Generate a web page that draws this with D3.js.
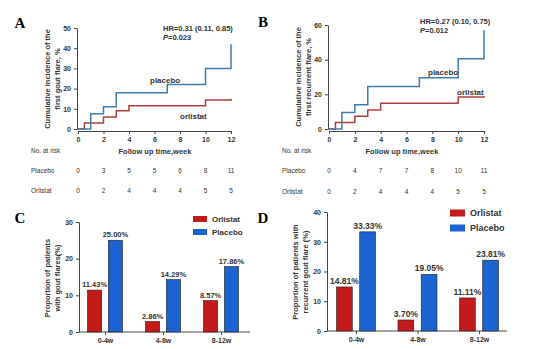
<!DOCTYPE html>
<html>
<head>
<meta charset="utf-8">
<script src="https://cdn.jsdelivr.net/npm/d3@7"></script>
<style>
  body { margin: 0; background: #fff; }
  svg { display: block; font-family: "Liberation Sans", Arial, sans-serif; }
  .axis path, .axis line { stroke: #444; stroke-width: 1; }
  .axis text { font-size: 7px; font-weight: bold; fill: #333; }
</style>
</head>
<body>
<svg id="chart" width="554" height="349"></svg>
<script>
// panel A: first gout flare
var weekTicks = [0, 2, 4, 6, 8, 10, 12];
var aPlaceboT = [0, 1, 2, 3, 7, 10, 12];
var aPlaceboV = [0, 7.5, 11, 18, 22, 30, 42];
var aOrlistatT = [0, 0.5, 2, 3, 4, 10, 12];
var aOrlistatV = [0, 3, 6, 9, 11.5, 14.3, 15];
var aRiskPlacebo = [0, 3, 5, 5, 6, 8, 11];
var aRiskOrlistat = [0, 2, 4, 4, 4, 5, 5];

// panel B: first recurrent flare
var bPlaceboT = [0, 1, 2, 3, 7, 10, 12];
var bPlaceboV = [0, 9.5, 14, 24.5, 29.5, 40.5, 57];
var bOrlistatT = [0, 0.5, 2, 3, 4, 10, 12];
var bOrlistatV = [0, 3.7, 7.4, 11, 14.8, 18.5, 19];
var bRiskPlacebo = [0, 4, 7, 7, 8, 10, 11];
var bRiskOrlistat = [0, 2, 4, 4, 4, 5, 5];

// panels C and D: bars
var periods = ["0-4w", "4-8w", "8-12w"];
var groups = ["Orlistat", "Placebo"];
var cOrlistat = [11.43, 2.86, 8.57];
var cPlacebo = [25.00, 14.29, 17.86];
var dOrlistat = [14.81, 3.70, 11.11];
var dPlacebo = [33.33, 19.05, 23.81];

var kmBlue = "#3d7db0", kmRed = "#a8413d";
var barRed = "#c41a1a", barBlue = "#1c63d2";

var svg = d3.select("#chart");
svg.append("rect").attr("width", 554).attr("height", 349).attr("fill", "#fff");

function letter(t, x, y) {
    svg.append("text").attr("x", x).attr("y", y)
        .attr("font-family", "Liberation Serif, serif").attr("font-weight", "bold")
        .attr("font-size", 15).attr("text-anchor", "middle").text(t);
}

function yLabel(lines, x, cy) {
    lines.forEach(function(l, i) {
        svg.append("text")
            .attr("transform", "translate(" + (x + i * 10) + "," + cy + ") rotate(-90)")
            .attr("text-anchor", "middle").attr("font-size", 7.5).attr("font-weight", "bold")
            .attr("fill", "#333").text(l);
    });
}

function kmPanel(o) {
    var x = d3.scaleLinear().domain([0, 12]).range(o.xr);
    var y = d3.scaleLinear().domain([0, o.ymax]).range(o.yr);
    svg.append("g").attr("class", "axis")
        .attr("transform", "translate(" + (o.xr[0] - 1) + ",0)")
        .call(d3.axisLeft(y).tickValues(o.yticks).tickSize(3).tickSizeOuter(0));
    svg.append("g").attr("class", "axis")
        .attr("transform", "translate(0," + (o.yr[0] + 2) + ")")
        .call(d3.axisBottom(x).tickValues(weekTicks).tickSize(3).tickSizeOuter(0));

    var line = d3.line().curve(d3.curveStepAfter)
        .x(function(d) { return x(d[0]); }).y(function(d) { return y(d[1]); });
    [[o.oT, o.oV, kmRed], [o.pT, o.pV, kmBlue]].forEach(function(s) {
        var pts = s[0].map(function(t, i) { return [t, s[1][i]]; });
        svg.append("path").datum(pts).attr("d", line)
            .attr("fill", "none").attr("stroke", s[2]).attr("stroke-width", 1.5);
    });

    svg.append("text").attr("x", o.plx).attr("y", o.ply).attr("font-size", 8)
        .attr("font-weight", "bold").attr("fill", "#333").text("placebo");
    svg.append("text").attr("x", o.olx).attr("y", o.oly).attr("font-size", 8)
        .attr("font-weight", "bold").attr("fill", "#333").text("orlistat");

    svg.append("text").attr("x", o.hrx).attr("y", o.hry).attr("font-size", 7.5)
        .attr("font-weight", "bold").attr("fill", "#333").text(o.hr);
    var p = svg.append("text").attr("x", o.hrx).attr("y", o.hry + 9).attr("font-size", 7.5)
        .attr("font-weight", "bold").attr("fill", "#333");
    p.append("tspan").attr("font-style", "italic").text("P");
    p.append("tspan").text(o.p);

    // risk table
    svg.append("text").attr("x", o.tx).attr("y", 153).attr("font-size", 6.5)
        .attr("fill", "#333").text("No. at risk");
    svg.append("text").attr("x", o.titx).attr("y", 154).attr("font-size", 7.5)
        .attr("font-weight", "bold").attr("text-anchor", "middle").attr("fill", "#333")
        .text("Follow up time,week");
    [["Placebo", o.rp, o.ry[0]], ["Orlistat", o.ro, o.ry[1]]].forEach(function(r) {
        svg.append("text").attr("x", o.tx).attr("y", r[2]).attr("font-size", 6.5)
            .attr("fill", "#333").text(r[0]);
        svg.append("g").selectAll("text").data(r[1]).enter().append("text")
            .attr("x", function(d, i) { return x(weekTicks[i]); })
            .attr("y", r[2]).attr("font-size", 6.5).attr("text-anchor", "middle")
            .attr("fill", "#333").text(function(d) { return d; });
    });
}

function barPanel(o) {
    var x0 = d3.scalePoint().domain(periods).range(o.centers);
    var x1 = d3.scaleBand().domain(groups).range([-o.half, o.half]).paddingInner(0.32);
    var y = d3.scaleLinear().domain([0, o.ymax]).range(o.yr);
    svg.append("g").attr("class", "axis")
        .attr("transform", "translate(" + o.ax + ",0)")
        .call(d3.axisLeft(y).tickValues(o.yticks).tickSize(3).tickSizeOuter(0));
    var xa = svg.append("g").attr("class", "axis")
        .attr("transform", "translate(0," + o.yr[0] + ")")
        .call(d3.axisBottom(x0).tickSize(3).tickSizeOuter(0));
    xa.select(".domain").attr("d", "M" + o.ax + ",0H" + o.axEnd);
    xa.selectAll("text").attr("font-size", 8);

    var rows = periods.map(function(p, i) {
        return [{g: "Orlistat", v: o.orl[i], p: p}, {g: "Placebo", v: o.pla[i], p: p}];
    });
    var gg = svg.append("g").selectAll("g").data(rows).enter().append("g")
        .attr("transform", function(d) { return "translate(" + x0(d[0].p) + ",0)"; });
    gg.selectAll("rect").data(function(d) { return d; }).enter().append("rect")
        .attr("x", function(d) { return x1(d.g); })
        .attr("y", function(d) { return y(d.v); })
        .attr("width", x1.bandwidth())
        .attr("height", function(d) { return y(0) - y(d.v); })
        .attr("fill", function(d) { return d.g == "Orlistat" ? barRed : barBlue; })
        .attr("stroke", "#222").attr("stroke-width", 0.6);
    gg.selectAll("text").data(function(d) { return d; }).enter().append("text")
        .attr("x", function(d) { return x1(d.g) + x1.bandwidth() / 2; })
        .attr("y", function(d) { return y(d.v) - 3; })
        .attr("text-anchor", "middle").attr("font-size", o.valSize).attr("font-weight", "bold")
        .attr("fill", "#333").text(function(d) { return d.v.toFixed(2) + "%"; });

    groups.forEach(function(g, i) {
        var cy = o.legY + i * o.legGap;
        svg.append("rect").attr("x", o.legX).attr("y", cy - o.legH / 2).attr("width", o.legW)
            .attr("height", o.legH).attr("fill", g == "Orlistat" ? barRed : barBlue);
        svg.append("text").attr("x", o.legX + o.legW + 5).attr("y", cy + 3).attr("font-size", o.legSize)
            .attr("font-weight", "bold").attr("fill", "#333").text(g);
    });
}

letter("A", 20, 28);
letter("B", 263, 27);
letter("C", 20, 223);
letter("D", 263, 223);

yLabel(["Cumulative incidence of the", "first gout flare, %"], 50, 79);
yLabel(["Cumulative incidence of the", "first recurrent flare, %"], 301, 77);
yLabel(["Proportion of patients", "with gout flares(%)"], 50, 278);
yLabel(["Proportion of patients with", "recurrent gout flare (%)"], 298, 272);

kmPanel({xr: [78, 231], yr: [129, 28], ymax: 50, yticks: [0, 10, 20, 30, 40, 50],
    pT: aPlaceboT, pV: aPlaceboV, oT: aOrlistatT, oV: aOrlistatV,
    plx: 150, ply: 83, olx: 180, oly: 119,
    hr: "HR=0.31 (0.11, 0.85)", p: "=0.023", hrx: 163, hry: 31,
    tx: 31, titx: 155, ry: [173, 193], rp: aRiskPlacebo, ro: aRiskOrlistat});

kmPanel({xr: [329, 484], yr: [129, 25], ymax: 60, yticks: [0, 20, 40, 60],
    pT: bPlaceboT, pV: bPlaceboV, oT: bOrlistatT, oV: bOrlistatV,
    plx: 428, ply: 75, olx: 457, oly: 95,
    hr: "HR=0.27 (0.10, 0.75)", p: "=0.012", hrx: 420, hry: 24,
    tx: 282, titx: 402, ry: [173, 194], rp: bRiskPlacebo, ro: bRiskOrlistat});

barPanel({centers: [105, 221], half: 17.5, yr: [332, 222], ymax: 30, yticks: [0, 10, 20, 30],
    ax: 79, axEnd: 250, orl: cOrlistat, pla: cPlacebo, legX: 193, legY: 219, legGap: 13,
    legW: 14, legH: 6, legSize: 8, valSize: 7.5});

barPanel({centers: [356, 479], half: 19.5, yr: [331, 212], ymax: 40, yticks: [0, 10, 20, 30, 40],
    ax: 327, axEnd: 507, orl: dOrlistat, pla: dPlacebo, legX: 450, legY: 213, legGap: 15,
    legW: 15, legH: 7, legSize: 9, valSize: 8.5});
</script>
</body>
</html>
